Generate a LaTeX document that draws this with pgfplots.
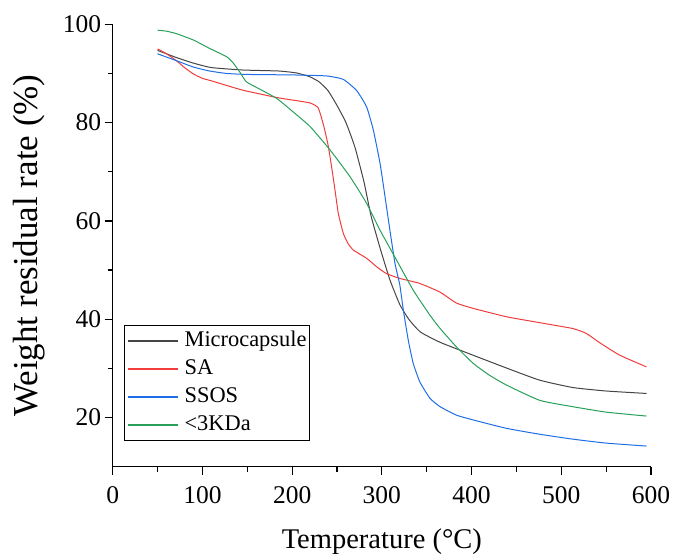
\documentclass[border=0pt]{standalone}
\usepackage{pgfplots}
\pgfplotsset{compat=1.18}
\usepackage{fontspec}
\setmainfont{Liberation Serif}

\definecolor{cmic}{HTML}{454545}
\definecolor{csa}{HTML}{F03C3C}
\definecolor{cssos}{HTML}{1E6EE6}
\definecolor{cgreen}{HTML}{28A05A}

\pgfplotsset{
  tgaline/.style={draw=#1, line width=1pt, smooth, tension=0.3,
    legend image code/.code={\draw[draw=#1, line width=1.2pt] (0pt,0pt) -- (50pt,0pt);}},
}

\begin{document}
\begin{tikzpicture}
\path[use as bounding box] (-112.7pt,-87.3pt) rectangle (560.3pt,466.7pt);
\begin{axis}[
  scale only axis,
  width=538.3pt, height=442.4pt,
  xmin=0, xmax=600, ymin=10, ymax=100,
  axis x line*=bottom, axis y line*=left,
  axis line style={line width=1.3pt, -},
  tick align=outside,
  major tick length=8pt, minor tick length=5pt,
  every tick/.style={line width=1.2pt, black},
  xtick={0,100,...,600}, minor xtick={50,150,...,550},
  ytick={20,40,...,100}, minor ytick={30,50,70,90},
  /pgf/number format/assume math mode=true,
  ticklabel style={font=\fontsize{25.5}{30}\selectfont},
  xticklabel style={yshift=-8pt},
  xlabel={Temperature (\textdegree C)},
  ylabel={Weight residual rate (\%)},
  xlabel style={font=\fontsize{28.5}{33}\selectfont, at={(axis description cs:0.5,-0.1838)}, anchor=base},
  ylabel style={font=\fontsize{35}{39}\selectfont, at={(axis description cs:-0.1406,0.5)}, anchor=base},
  legend cell align=left,
  legend style={at={(rel axis cs:0.021,0.32)}, anchor=north west,
    draw=black, line width=0.8pt, fill=white,
    font=\fontsize{22.4}{26}\selectfont,
    inner xsep=3pt, inner ysep=5pt, row sep=7pt, column sep=6pt,
    nodes={inner sep=0pt, text height=16pt, text depth=5pt}},
]
\addplot[tgaline=cmic] coordinates {
(50,94.7) (70,93.3) (90,92.1) (110,91.2) (145,90.7) (185,90.5) (205,90.1)
(220,89.3) (230,88.3) (240,86.5) (250,83.5) (260,80) (270,75) (280,68)
(288,61) (298,54.5) (309,48) (320,43) (330,40) (343,37.4) (365,35.3)
(400,32.8) (440,30.0) (476,27.6) (513,26.1) (550,25.4) (595,24.9)
};
\addlegendentry{Microcapsule}
\addplot[tgaline=csa] coordinates {
(50,95) (60,94) (71,92.6) (80,91.2) (90,89.9) (100,89) (110,88.5) (145,86.6)
(183,85.1) (200,84.6) (220,84.0) (229,83.0) (235,79.5) (240,75.5) (244,71)
(248,66) (251.5,61.5) (257,57.5) (262,55.5) (268,54.1) (283,52.4) (294,50.7)
(305,49.3) (320,48.3) (342,47.3) (365,45.5) (383,43.3) (402,42.2) (439,40.5)
(476,39.3) (513,38.1) (528,37.1) (543,35.2) (565,32.7) (595,30.3)
};
\addlegendentry{SA}
\addplot[tgaline=cssos] coordinates {
(50,94.0) (71,92.6) (90,91.3) (108,90.5) (127,90.0) (150,89.8) (200,89.7)
(238,89.5) (257,88.8) (272,86.5) (283,83.2) (290.5,78.5) (298,71.7) (303.5,65)
(309,58.1) (314.7,51.3) (320,47) (324,41.8) (329.5,35.7) (335,31) (342.5,27.2)
(353.7,23.9) (365,22.2) (383,20.5) (402,19.5) (439,17.8) (476,16.6) (513,15.6)
(550,14.8) (595,14.2)
};
\addlegendentry{SSOS}
\addplot[tgaline=cgreen] coordinates {
(50,98.8) (60,98.6) (71,98.1) (90,96.8) (108,95.1) (127,93.4) (134,92.2)
(142,90.2) (149,88.3) (164,86.8) (183,84.9) (201,82.2) (220,79.2) (242,74.5)
(264.5,69) (283,63.6) (298,58.1) (316.5,52) (335,45.9) (353.7,40.8) (365,38.1)
(383,34.4) (402,31.0) (420,28.6) (439,26.6) (476,23.5) (513,22.2) (550,21.1)
(595,20.3)
};
\addlegendentry{<3KDa}
\end{axis}
\end{tikzpicture}
\end{document}
